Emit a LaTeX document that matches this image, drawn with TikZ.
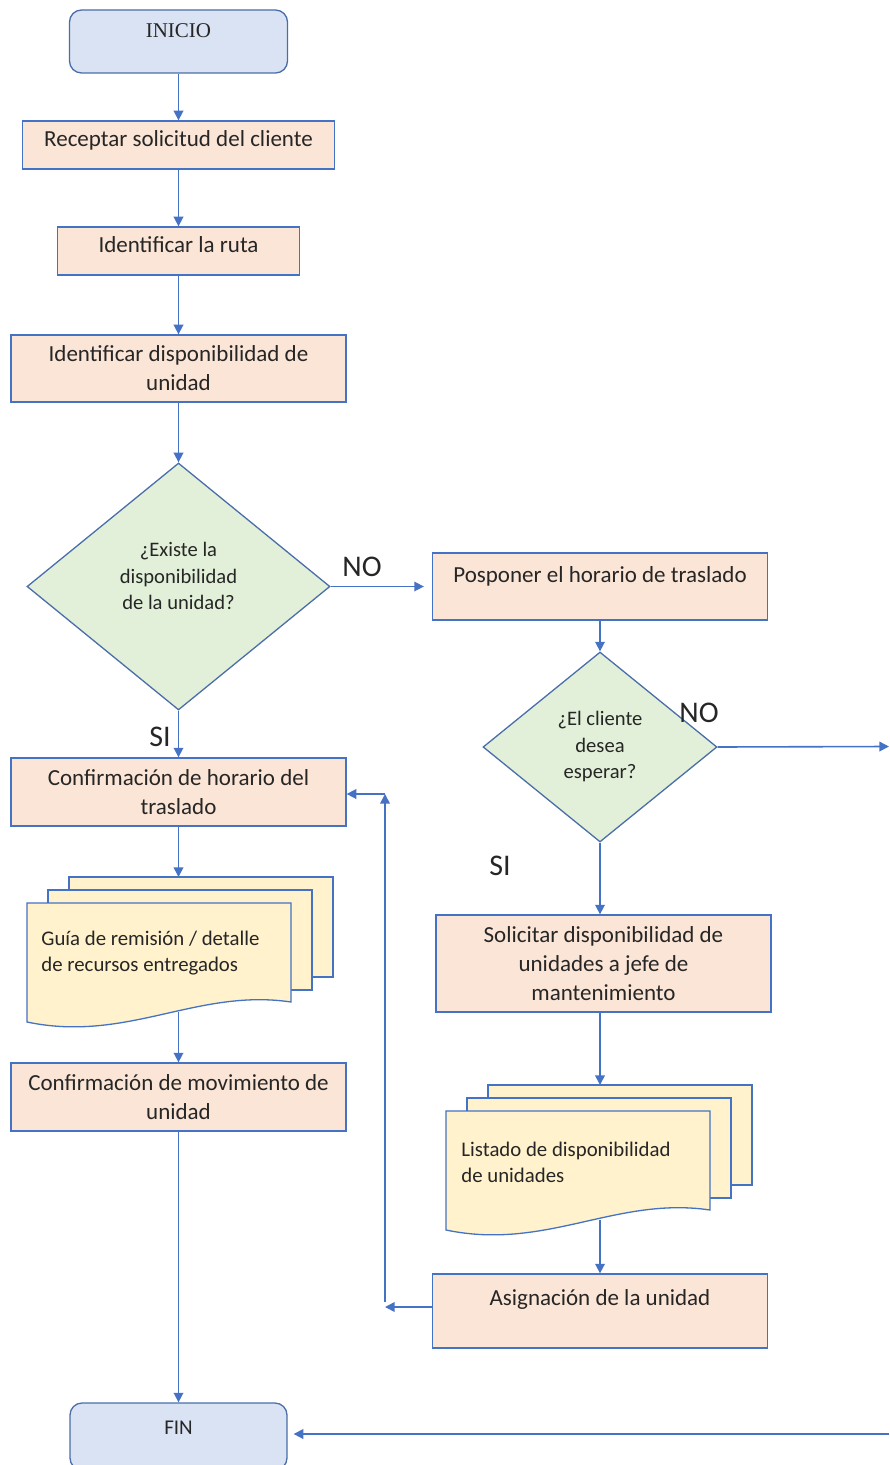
\documentclass[tikz,border=0pt]{standalone}
\usepackage{fontspec}
\setmainfont{Carlito}
\newfontfamily\timesfont{Liberation Serif}
\usetikzlibrary{shapes.geometric,arrows.meta}

\definecolor{procfill}{HTML}{FBE5D6}
\definecolor{decfill}{HTML}{E2F0D9}
\definecolor{docfill}{HTML}{FFF2CC}
\definecolor{termfill}{HTML}{DAE3F3}
\definecolor{boxline}{HTML}{4472C4}
\definecolor{darkline}{HTML}{4A6EA9}
\definecolor{ink}{HTML}{262626}

% multi-document: #1 name, (#2,#3) top left corner of the front page
\newcommand{\docstack}[3]{%
  \foreach \k in {2,1} {
    \draw[docpage] (#2+21*\k,#3-13*\k) rectangle (#2+21*\k+264,#3-13*\k+100);
  }
  \draw[docpage] (#2,#3) -- (#2+264,#3) -- (#2+264,#3+99)
    .. controls (#2+170,#3+85) and (#2+100,#3+140) .. (#2,#3+119) -- cycle;
  \coordinate (#1top) at (#2+151,#3-26);
  \coordinate (#1bot) at (#2+151,#3+109);
}

\begin{document}
\begin{tikzpicture}[x=0.5pt,y=-0.5pt,
  proc/.style={draw=boxline,fill=procfill,line width=0.65pt,inner sep=0pt,align=center,
    text=ink,font=\fontsize{11.5}{14.5}\selectfont},
  lift/.style={text height=8pt,text depth=#1},
  dec/.style={diamond,draw=darkline,fill=decfill,line width=0.65pt,inner sep=0pt,align=center,
    text=ink,font=\fontsize{10.3}{13.25}\selectfont},
  term/.style={rectangle,rounded corners=6pt,draw=darkline,fill=termfill,line width=0.65pt,
    inner sep=0pt,text=ink,font=\fontsize{10.5}{12}\selectfont},
  docpage/.style={draw=boxline,fill=docfill,line width=0.65pt},
  doctext/.style={inner sep=0pt,align=left,text=ink,font=\fontsize{10.4}{13}\selectfont},
  lbl/.style={inner sep=0pt,text=ink,font=\fontsize{15}{18}\selectfont},
  arr/.style={draw=boxline,line width=0.8pt,-{Triangle[length=4.8pt,width=4.8pt]}}]
\useasboundingbox (0,0) rectangle (889,1465);
\clip (0,0) rectangle (889,1465);

% left column
\node[term,minimum width=109pt,minimum height=31.5pt,lift=12pt,
  font=\timesfont\fontsize{10.5}{12}\selectfont] (inicio) at (178.5,41.5) {INICIO};
\node[proc,minimum width=156pt,minimum height=24pt,lift=6.5pt] (recep) at (178.5,145) {Receptar solicitud del cliente};
\node[proc,minimum width=121pt,minimum height=24pt,lift=6.5pt] (ruta) at (178.5,251) {Identificar la ruta};
\node[proc,minimum width=167.5pt,minimum height=33.5pt] (dispo) at (178.5,368.5) {Identificar disponibilidad de\\unidad};
\node[dec,minimum width=151.5pt,minimum height=123.5pt,text height=34pt,text depth=10.8pt] (existe) at (178.5,586.5) {¿Existe la\\disponibilidad\\de la unidad?};
\node[proc,minimum width=167.5pt,minimum height=34pt] (confh) at (178.5,792) {Confirmación de horario del\\traslado};
\docstack{docA}{27}{903}
\node[doctext,anchor=west] (guia) at (41,953.5) {Guía de remisión / detalle\\de recursos entregados};
\node[proc,minimum width=167.5pt,minimum height=34pt] (confm) at (178.5,1097) {Confirmación de movimiento de\\unidad};
\node[term,minimum width=108.5pt,minimum height=33.5pt,lift=10pt] (fin) at (178.5,1436.5) {FIN};

% right column
\node[proc,minimum width=167.5pt,minimum height=33.5pt,lift=12pt] (posp) at (600,586.5) {Posponer el horario de traslado};
\node[dec,minimum width=117pt,minimum height=95pt] (espera) at (600,747) {¿El cliente\\desea\\esperar?};
\node[proc,minimum width=167.5pt,minimum height=48.5pt] (solic) at (603.5,963.5) {Solicitar disponibilidad de\\unidades a jefe de\\mantenimiento};
\docstack{docB}{446}{1111}
\node[doctext,anchor=west] (listado) at (461,1162.5) {Listado de disponibilidad\\de unidades};
\node[proc,minimum width=167.5pt,minimum height=37pt,lift=13.5pt] (asig) at (600,1311) {Asignación de la unidad};

% branch labels
\node[lbl] (no1) at (362,567) {NO};
\node[lbl] (si1) at (160,737) {SI};
\node[lbl] (no2) at (699,713) {NO};
\node[lbl] (si2) at (500,866) {SI};

\coordinate (outR) at (889,746.5);
\coordinate (inR) at (889,1434);
\coordinate (backB) at (385,1307);
\coordinate (backV) at (385,1302);
\coordinate (backT) at (385,794);

\draw[arr] (inicio) -- (recep);
\draw[arr] (recep) -- (ruta);
\draw[arr] (ruta) -- (dispo);
\draw[arr] (dispo) -- (existe);
\draw[arr] (existe) -- (confh);
\draw[arr,shorten >=4pt] (existe) -- (posp);
\draw[arr] (confh) -- (confh |- docAtop);
\draw[arr] (confh |- docAbot) -- (confm);
\draw[arr] (confm) -- (fin);
\draw[arr] (posp) -- (espera);
\draw[arr] (espera) -- (espera |- solic.north);
\draw[arr] (espera.east) -- (outR);
\draw[arr] (espera |- solic.south) -- (espera |- docBtop);
\draw[arr] (espera |- docBbot) -- (asig);
\draw[arr] (asig.west |- backB) -- (backB);
\draw[arr] (backV) -- (backT);
\draw[arr] (backT) -- (confh.east |- backT);
\draw[arr,shorten >=3pt] (inR) -- (fin.east |- inR);

\end{tikzpicture}
\end{document}
